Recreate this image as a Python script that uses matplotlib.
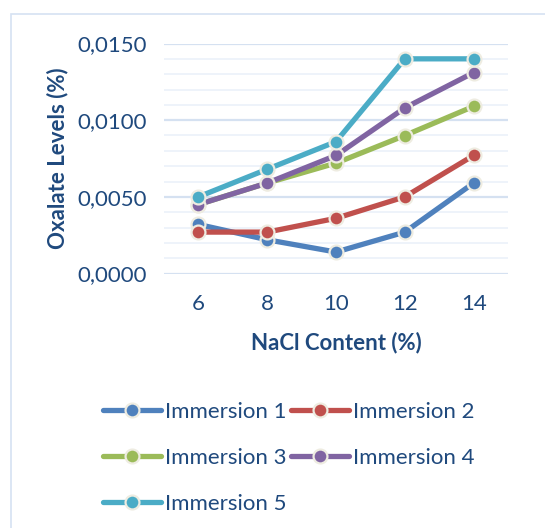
import matplotlib
matplotlib.use("Agg")
import matplotlib.pyplot as plt
from matplotlib.patches import Rectangle
from matplotlib.ticker import MultipleLocator, FuncFormatter

categories = ["6", "8", "10", "12", "14"]
series_names = ["Immersion 1", "Immersion 2", "Immersion 3", "Immersion 4", "Immersion 5"]
immersion1 = [0.0032, 0.0022, 0.0014, 0.0027, 0.0059]
immersion2 = [0.0027, 0.0027, 0.0036, 0.0050, 0.0077]
immersion3 = [0.0045, 0.0059, 0.0072, 0.0090, 0.0109]
immersion4 = [0.0045, 0.0059, 0.0077, 0.0108, 0.0131]
immersion5 = [0.0050, 0.0068, 0.0086, 0.0140, 0.0140]
series_values = [immersion1, immersion2, immersion3, immersion4, immersion5]
colors = ["#4F81BD", "#C0504D", "#9BBB59", "#8064A2", "#4BACC6"]

text_color = "#1F497D"
plt.rcParams['font.family'] = ['Lato', 'DejaVu Sans']
FS = 16

W, H = 545, 528
fig = plt.figure(figsize=(W / 100, H / 100), dpi=100)
fig.patch.set_facecolor("white")

# chart frame
fig.add_artist(Rectangle((11 / W, -0.05), 1.0, (H - 14) / H + 0.05,
                         transform=fig.transFigure, fill=False,
                         edgecolor="#D6E2F2", linewidth=1.2))

ax = fig.add_axes([164 / W, (H - 273.5) / H, 344 / W, 230 / H])
x = list(range(len(categories)))
handles = []
for name, vals, c in zip(series_names, series_values, colors):
    h, = ax.plot(x, vals, color=c, linewidth=3.8, marker="o", markersize=10,
                 markerfacecolor=c, markeredgecolor="#EEECE1", markeredgewidth=1.6,
                 label=name, clip_on=False, solid_capstyle="round", zorder=3)
    handles.append(h)

ax.set_xlim(-0.5, len(categories) - 0.5)
ax.set_ylim(0, 0.015)
ax.set_xticks(x)
ax.set_xticklabels(categories)
ax.yaxis.set_major_locator(MultipleLocator(0.005))
ax.yaxis.set_minor_locator(MultipleLocator(0.001))
ax.yaxis.set_major_formatter(FuncFormatter(lambda v, p: f"{v:.4f}".replace(".", ",")))
ax.grid(which="major", axis="y", color="#D5E1F1", linewidth=1.6)
ax.grid(which="minor", axis="y", color="#EEF3FA", linewidth=1.4)
ax.set_axisbelow(True)
for s in ax.spines.values():
    s.set_visible(False)
ax.tick_params(axis="both", which="both", length=0, labelsize=FS, colors=text_color)
ax.tick_params(axis="y", pad=12)
ax.tick_params(axis="x", pad=15)

fig.text(58 / W, 1 - 158 / H, "Oxalate Levels (%)", rotation=90, ha="center", va="center",
         fontsize=FS, fontweight="bold", color=text_color)
fig.text(336 / W, 1 - 343 / H, "NaCl Content (%)", ha="center", va="center",
         fontsize=FS, fontweight="bold", color=text_color)

# row-wise legend order: column 1 = 1,3,5 ; column 2 = 2,4
order = [0, 2, 4, 1, 3]
leg = fig.legend([handles[i] for i in order], [series_names[i] for i in order],
                 loc="upper left", bbox_to_anchor=(103 / W, 1 - 402 / H), ncol=2,
                 frameon=False, fontsize=FS, handlelength=2.6, handletextpad=0.2,
                 columnspacing=0.2, labelspacing=1.17, borderpad=0, borderaxespad=0)
for t in leg.get_texts():
    t.set_color(text_color)

fig.savefig("out.png", dpi=100)
